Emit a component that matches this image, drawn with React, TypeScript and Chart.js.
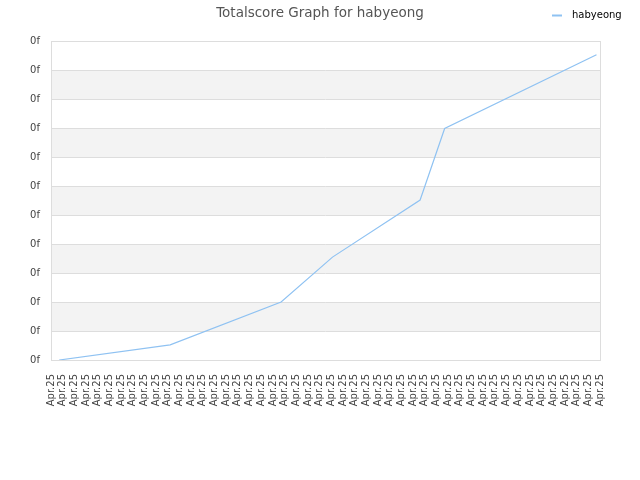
import { useEffect, useRef } from 'react'
import { Chart, registerables } from 'chart.js'

Chart.register(...registerables)

const seriesName = 'habyeong'
// x positions measured in label steps, y in grid steps
const pointX = [0.7, 10.2, 19.7, 24.1, 31.6, 33.7, 46.7]
const pointY = [0, 0.52, 2.0, 3.55, 5.52, 7.99, 10.53]
const xTickLabels = Array(48).fill('Apr.25')
const yTickLabels = Array(12).fill('0f')

const lineColor = '#8fc2f2'
const gridColor = '#dddddd'
const bandColor = '#f3f3f3'
const textColor = '#444444'

const bandsPlugin = {
  id: 'bands',
  beforeDatasetsDraw(chart: Chart) {
    const { ctx, chartArea, scales } = chart
    const y = scales.y
    ctx.save()
    ctx.fillStyle = bandColor
    for (let i = 1; i < yTickLabels.length - 1; i += 2) {
      const top = y.getPixelForValue(i + 1)
      const bottom = y.getPixelForValue(i)
      ctx.fillRect(chartArea.left, top, chartArea.right - chartArea.left, bottom - top)
    }
    ctx.strokeStyle = gridColor
    ctx.lineWidth = 1
    for (let i = 0; i < yTickLabels.length; i++) {
      const py = Math.round(y.getPixelForValue(i)) + 0.5
      ctx.beginPath()
      ctx.moveTo(chartArea.left, py)
      ctx.lineTo(chartArea.right, py)
      ctx.stroke()
    }
    ctx.strokeRect(
      Math.round(chartArea.left) + 0.5,
      Math.round(chartArea.top) + 0.5,
      Math.round(chartArea.right - chartArea.left),
      Math.round(chartArea.bottom - chartArea.top)
    )
    ctx.restore()
  },
}

const legendPlugin = {
  id: 'cornerLegend',
  afterDraw(chart: Chart) {
    const { ctx } = chart
    const ds = chart.data.datasets[0]
    ctx.save()
    ctx.strokeStyle = ds.borderColor as string
    ctx.lineWidth = 2
    ctx.beginPath()
    ctx.moveTo(552, 15.5)
    ctx.lineTo(562, 15.5)
    ctx.stroke()
    ctx.fillStyle = '#000'
    ctx.font = '10px "DejaVu Sans"'
    ctx.textBaseline = 'middle'
    ctx.fillText(ds.label as string, 572, 15)
    ctx.restore()
  },
}

export default function App() {
  const chartRef = useRef<HTMLCanvasElement>(null)
  const chartInstanceRef = useRef<Chart | null>(null)

  useEffect(() => {
    document.body.style.margin = '0'
    if (!chartRef.current) return
    const ctx = chartRef.current.getContext('2d')
    if (!ctx) return

    if (chartInstanceRef.current) {
      chartInstanceRef.current.destroy()
    }

    chartInstanceRef.current = new Chart(ctx, {
      type: 'line',
      data: {
        datasets: [
          {
            label: seriesName,
            data: pointX.map((x, i) => ({ x, y: pointY[i] })),
            borderColor: lineColor,
            borderWidth: 1.2,
            pointRadius: 0,
            tension: 0,
            fill: false,
          },
        ],
      },
      options: {
        responsive: true,
        maintainAspectRatio: false,
        animation: false,
        layout: { padding: 0 },
        plugins: {
          legend: { display: false },
          tooltip: { enabled: false },
          title: {
            display: true,
            text: 'Totalscore Graph for ' + seriesName,
            color: '#555555',
            font: { family: '"DejaVu Sans"', size: 13.5, weight: 'normal' },
            padding: { top: 5, bottom: 20 },
          },
        },
        scales: {
          x: {
            type: 'linear',
            min: 0,
            max: xTickLabels.length - 1,
            afterFit: (scale) => {
              scale.height = 120
            },
            ticks: {
              stepSize: 1,
              autoSkip: false,
              maxRotation: 90,
              minRotation: 90,
              padding: 14,
              color: textColor,
              font: { family: '"DejaVu Sans"', size: 10 },
              callback: (_v, i) => xTickLabels[i],
            },
            grid: { display: false, drawTicks: false },
            border: { display: false },
          },
          y: {
            min: 0,
            max: yTickLabels.length - 1,
            afterFit: (scale) => {
              scale.width = 51
            },
            ticks: {
              stepSize: 1,
              padding: 11,
              color: textColor,
              font: { family: '"DejaVu Sans"', size: 10 },
              callback: (_v, i) => yTickLabels[i],
            },
            grid: { display: false, drawTicks: false },
            border: { display: false },
          },
          rightGap: {
            type: 'linear',
            position: 'right',
            afterFit: (scale) => {
              scale.width = 40
            },
            ticks: { display: false },
            grid: { display: false, drawTicks: false },
            border: { display: false },
          },
        },
      },
      plugins: [bandsPlugin, legendPlugin],
    })

    return () => {
      chartInstanceRef.current?.destroy()
      chartInstanceRef.current = null
    }
  }, [])

  return (
    <div style={{ position: 'relative', width: 640, height: 480 }}>
      <canvas ref={chartRef}></canvas>
    </div>
  )
}
